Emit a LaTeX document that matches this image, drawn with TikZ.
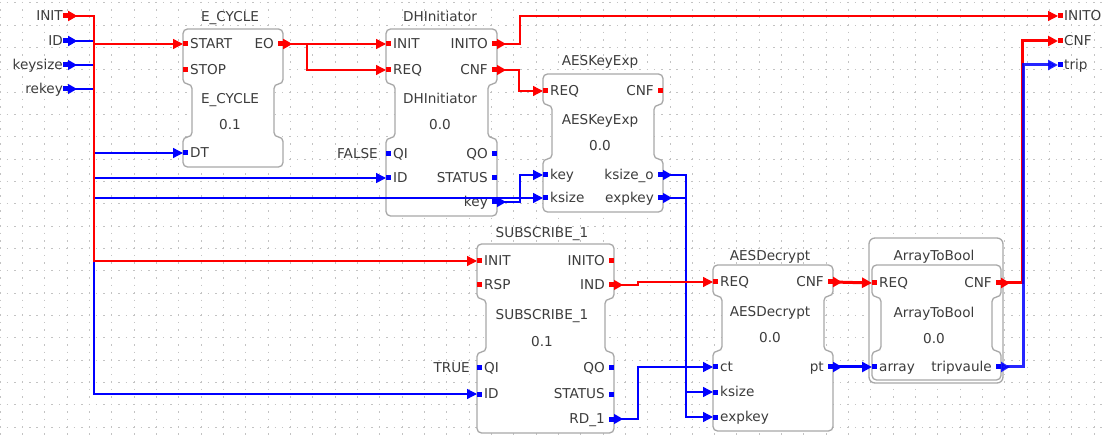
\documentclass[tikz,border=0pt]{standalone}
\usepackage{fontspec}
\setmainfont{DejaVu Sans}
\usetikzlibrary{arrows.meta}
\definecolor{ered}{RGB}{255,0,0}
\definecolor{dblue}{RGB}{0,0,255}
\definecolor{fbgray}{RGB}{168,168,168}
\definecolor{txt}{RGB}{60,60,60}
\definecolor{gridc}{RGB}{195,195,195}
% FB outline: L, R, T, event-bottom, data-top, B
\newcommand\fbshape[6]{\draw[fb] ({(#1+#2)/2},#3) -- (#2,#3) -- (#2,#4) -- ({#2-9},#4) -- ({#2-9},#5) -- (#2,#5) -- (#2,#6) -- (#1,#6) -- (#1,#5) -- ({#1+9},#5) -- ({#1+9},#4) -- (#1,#4) -- (#1,#3) -- cycle;}
% pins: name, x, y, style, label
\newcommand\lpin[5]{\node[#4,anchor=west] (#1) at (#2,#3) {}; \node[lbl,anchor=west] (#1-l) at ({#2+7},#3) {#5};}
\newcommand\rpin[5]{\node[#4,anchor=east] (#1) at (#2,#3) {}; \node[lbl,anchor=east] (#1-l) at ({#2-9},#3) {#5};}
\begin{document}
\begin{tikzpicture}[x=1pt,y=-1pt,
  lbl/.style={font=\fontsize{13.6}{16}\selectfont, text=txt, inner sep=0pt, text height=9.8pt, text depth=0pt},
  fb/.style={draw=fbgray, line width=1.3pt, fill=white, rounded corners=4.5pt},
  epin/.style={rectangle, fill=ered, inner sep=0pt, minimum width=4.5pt, minimum height=5pt},
  dpin/.style={rectangle, fill=dblue, inner sep=0pt, minimum width=4.5pt, minimum height=5pt},
  con/.style={line width=1.3pt, {Triangle[reversed,length=9pt,width=10pt]}-{Triangle[length=10pt,width=10pt]}},
  econ/.style={con, color=ered},
  dcon/.style={con, color=dblue},
  bold/.style={line width=3pt},
  gridln/.style={draw=gridc, line width=0.8pt, dash pattern=on 1.5pt off 5.94pt}]
\useasboundingbox (0,0) rectangle (1108,435);
\fill[white] (0,0) rectangle (1108,435);
% grid
\foreach \k in {0,...,19} \draw[gridln] (-0.75,{2.7+22.33*\k}) -- (1108,{2.7+22.33*\k});
\foreach \k in {0,...,49} \draw[gridln] ({22.33*\k},1.95) -- ({22.33*\k},435);

% ---------- interface inputs ----------
\node[epin,anchor=east] (in-INIT) at (68,16) {};
\node[lbl,anchor=east] (in-INIT-l) at (63,16) {INIT};
\node[dpin,anchor=east] (in-ID) at (68,41) {};
\node[lbl,anchor=east] (in-ID-l) at (63,41) {ID};
\node[dpin,anchor=east] (in-keysize) at (68,65) {};
\node[lbl,anchor=east] (in-keysize-l) at (63,65) {keysize};
\node[dpin,anchor=east] (in-rekey) at (68,89) {};
\node[lbl,anchor=east] (in-rekey-l) at (63,89) {rekey};
% ---------- interface outputs ----------
\node[epin,anchor=west] (out-INITO) at (1058,16) {};
\node[lbl,anchor=west] (out-INITO-l) at (1064,16) {INITO};
\node[epin,anchor=west] (out-CNF) at (1058,41) {};
\node[lbl,anchor=west] (out-CNF-l) at (1064,41) {CNF};
\node[dpin,anchor=west] (out-trip) at (1058,65) {};
\node[lbl,anchor=west] (out-trip-l) at (1064,65) {trip};

% ---------- E_CYCLE ----------
\fbshape{183}{283}{29}{84}{137}{167}
\node[lbl] (ec-title) at (230,17) {E\_CYCLE};
\node[lbl] (ec-type) at (230,99) {E\_CYCLE};
\node[lbl] (ec-ver) at (230,125) {0.1};
\lpin{ec-START}{183}{44}{epin}{START}
\lpin{ec-STOP}{183}{70}{epin}{STOP}
\rpin{ec-EO}{283}{44}{epin}{EO}
\lpin{ec-DT}{183}{153}{dpin}{DT}

% ---------- DHInitiator ----------
\fbshape{386}{497}{29}{84}{138}{216}
\node[lbl] (dh-title) at (440,17) {DHInitiator};
\node[lbl] (dh-type) at (440,99) {DHInitiator};
\node[lbl] (dh-ver) at (440,125) {0.0};
\lpin{dh-INIT}{386}{44}{epin}{INIT}
\lpin{dh-REQ}{386}{70}{epin}{REQ}
\rpin{dh-INITO}{497}{44}{epin}{INITO}
\rpin{dh-CNF}{497}{70}{epin}{CNF}
\lpin{dh-QI}{386}{154}{dpin}{QI}
\lpin{dh-ID}{386}{178}{dpin}{ID}
\rpin{dh-QO}{497}{154}{dpin}{QO}
\rpin{dh-STATUS}{497}{178}{dpin}{STATUS}
\rpin{dh-key}{497}{202}{dpin}{key}
\node[lbl,anchor=east] (dh-false) at (378,154) {FALSE};

% ---------- AESKeyExp ----------
\fbshape{543}{663}{74}{105}{159}{212}
\node[lbl] (ak-title) at (600,61) {AESKeyExp};
\node[lbl] (ak-type) at (600,120) {AESKeyExp};
\node[lbl] (ak-ver) at (600,146) {0.0};
\lpin{ak-REQ}{543}{91}{epin}{REQ}
\rpin{ak-CNF}{663}{91}{epin}{CNF}
\lpin{ak-key}{543}{175}{dpin}{key}
\lpin{ak-ksize}{543}{198}{dpin}{ksize}
\rpin{ak-ksizeo}{663}{175}{dpin}{ksize\_o}
\rpin{ak-expkey}{663}{198}{dpin}{expkey}

% ---------- SUBSCRIBE_1 ----------
\fbshape{477}{614}{244}{299}{352}{433}
\node[lbl] (sb-title) at (542,233) {SUBSCRIBE\_1};
\node[lbl] (sb-type) at (542,315) {SUBSCRIBE\_1};
\node[lbl] (sb-ver) at (542,342) {0.1};
\lpin{sb-INIT}{477}{261}{epin}{INIT}
\lpin{sb-RSP}{477}{285}{epin}{RSP}
\rpin{sb-INITO}{614}{261}{epin}{INITO}
\rpin{sb-IND}{614}{285}{epin}{IND}
\lpin{sb-QI}{477}{368}{dpin}{QI}
\lpin{sb-ID}{477}{394}{dpin}{ID}
\rpin{sb-QO}{614}{368}{dpin}{QO}
\rpin{sb-STATUS}{614}{394}{dpin}{STATUS}
\rpin{sb-RD}{614}{419}{dpin}{RD\_1}
\node[lbl,anchor=east] (sb-true) at (470,368) {TRUE};

% ---------- AESDecrypt ----------
\fbshape{713}{833}{265}{296}{351}{431}
\node[lbl] (ad-title) at (770,256) {AESDecrypt};
\node[lbl] (ad-type) at (770,312) {AESDecrypt};
\node[lbl] (ad-ver) at (770,338) {0.0};
\lpin{ad-REQ}{713}{282}{epin}{REQ}
\rpin{ad-CNF}{833}{282}{epin}{CNF}
\lpin{ad-ct}{713}{367}{dpin}{ct}
\lpin{ad-ksize}{713}{392}{dpin}{ksize}
\lpin{ad-expkey}{713}{417}{dpin}{expkey}
\rpin{ad-pt}{833}{367}{dpin}{pt}

% ---------- ArrayToBool ----------
\draw[fb,rounded corners=6pt] (869,238) rectangle (1003,383);
\fbshape{872}{1001}{265}{297}{351}{380}
\node[lbl] (at-title) at (934,256) {ArrayToBool};
\node[lbl] (at-type) at (934,313) {ArrayToBool};
\node[lbl] (at-ver) at (934,339) {0.0};
\lpin{at-REQ}{872}{283}{epin}{REQ}
\rpin{at-CNF}{1001}{283}{epin}{CNF}
\lpin{at-array}{872}{367}{dpin}{array}
\rpin{at-trip}{1001}{367}{dpin}{tripvaule}

% ---------- data connections ----------
\draw[dcon] (in-ID.east) -- ++(26,0) |- (dh-ID.west);
\draw[dcon] (in-ID.east) -- ++(26,0) |- (sb-ID.west);
\draw[dcon] (in-rekey.east) -- ++(26,0) |- (ec-DT.west);
\draw[dcon] (in-keysize.east) -- ++(26,0) |- (ak-ksize.west);
\draw[dcon] (dh-key.east) -- ++(23,0) |- (ak-key.west);
\draw[dcon] (ak-ksizeo.east) -- ++(23,0) |- (ad-ksize.west);
\draw[dcon] (ak-expkey.east) -- ++(23,0) |- (ad-expkey.west);
\draw[dcon] (sb-RD.east) -- ++(24,0) |- (ad-ct.west);
\draw[dcon,bold] (ad-pt.east) -- (at-array.west);

% ---------- event connections ----------
\draw[econ] (in-INIT.east) -- ++(26,0) |- (ec-START.west);
\draw[econ] (in-INIT.east) -- ++(26,0) |- (sb-INIT.west);
\draw[econ] (ec-EO.east) -- (dh-INIT.west);
\draw[econ] (ec-EO.east) -- ++(24,0) |- (dh-REQ.west);
\draw[econ] (dh-INITO.east) -- ++(23,0) |- (out-INITO.west);
\draw[econ] (dh-CNF.east) -- ++(22,0) |- (ak-REQ.west);
\draw[econ] (sb-IND.east) -- ++(24,0) |- (ad-REQ.west);
\draw[econ,bold] (ad-CNF.east) -- (at-REQ.west);
\draw[econ,bold] (at-CNF.east) -- ++(21,0) |- (out-CNF.west);
\draw[dcon,bold,opacity=0.85] (at-trip.east) -- ++(22,0) |- (out-trip.west);
\end{tikzpicture}
\end{document}
